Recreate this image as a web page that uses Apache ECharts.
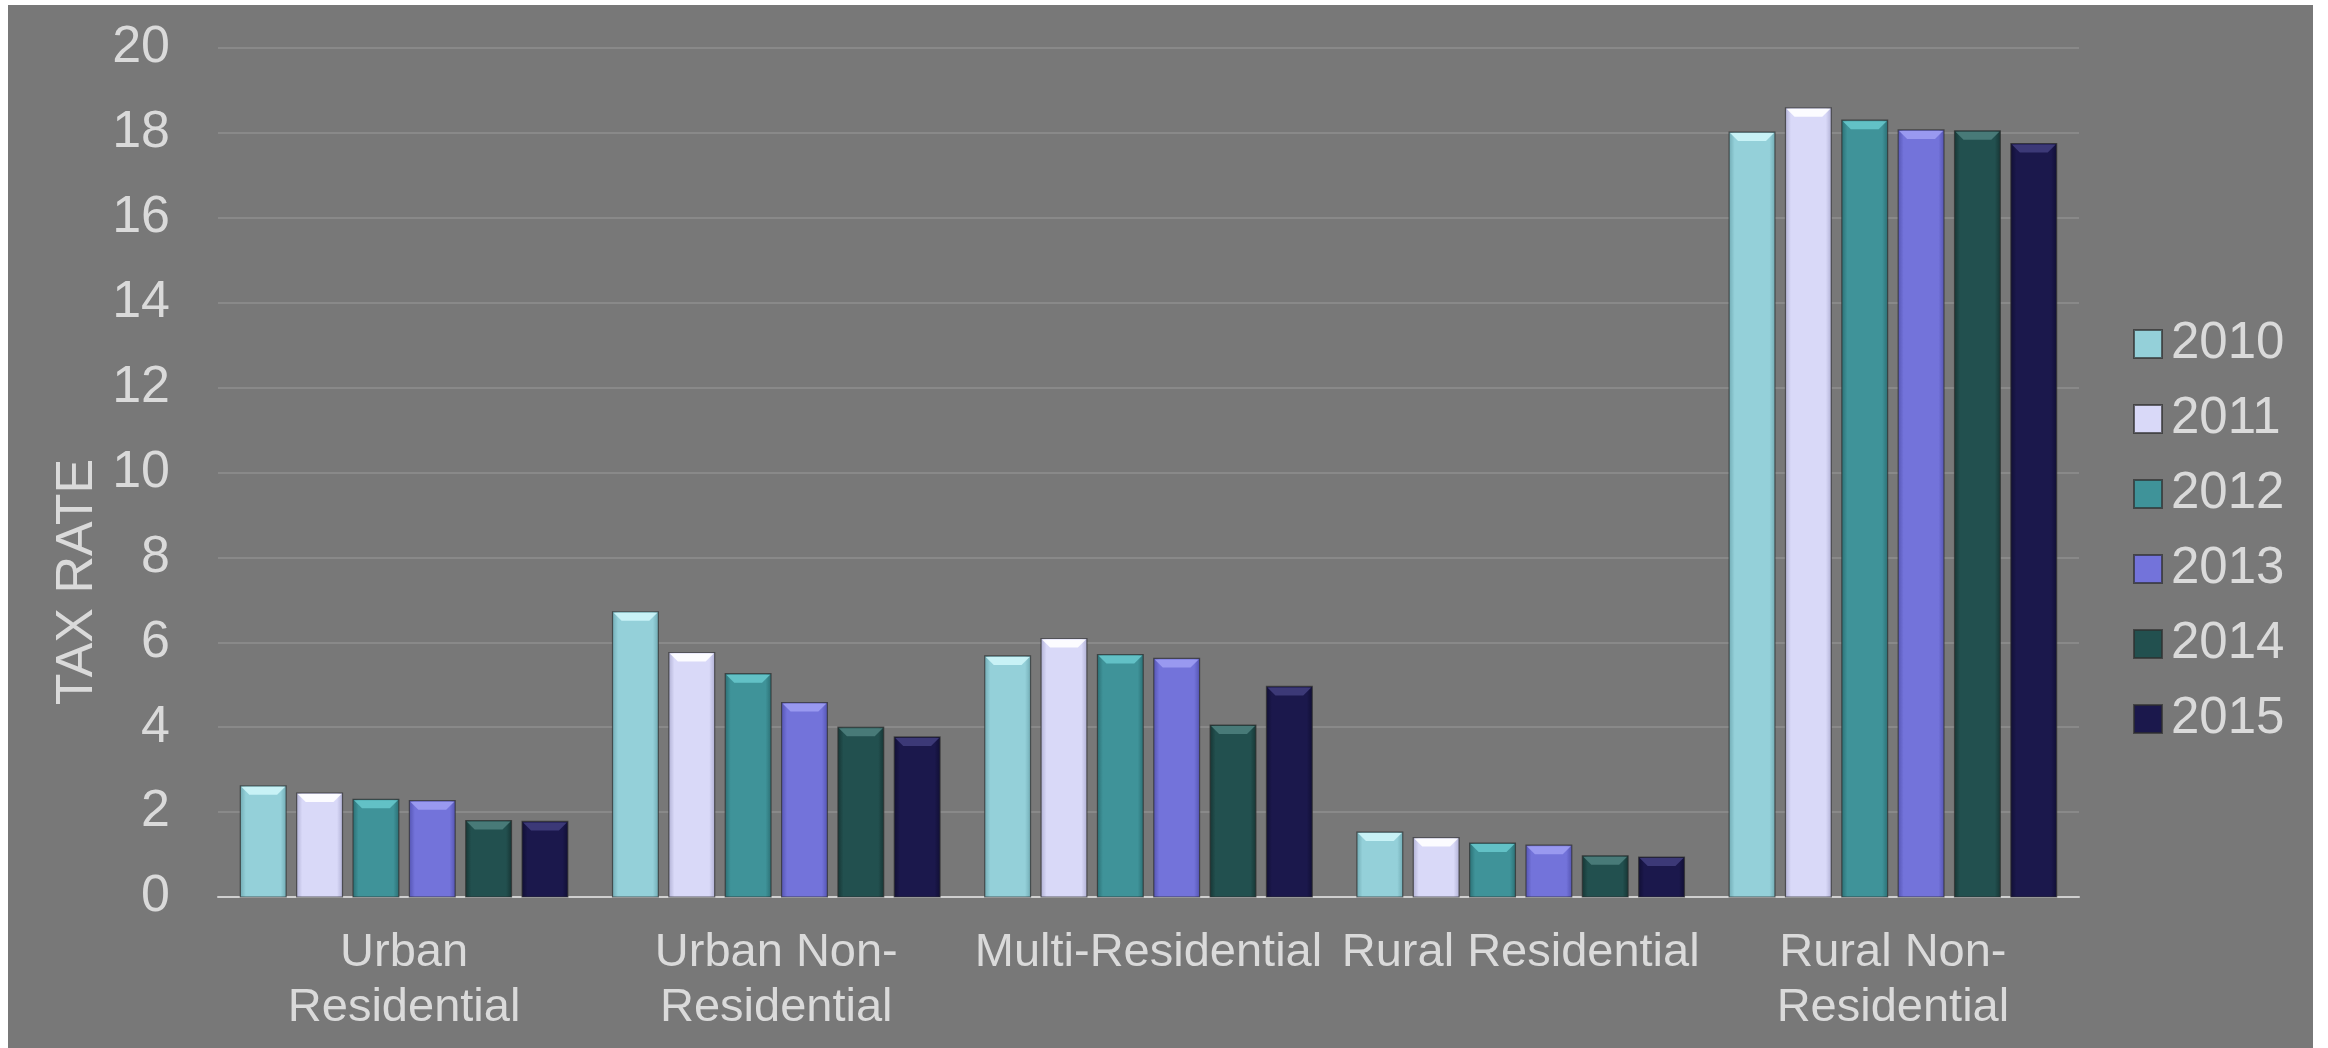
<!DOCTYPE html>
<html>
<head>
<meta charset="utf-8">
<title>Tax Rate by Property Class, 2010-2015</title>
<script src="https://cdn.jsdelivr.net/npm/echarts@6/dist/echarts.min.js"></script>
<style>
  html, body { margin: 0; padding: 0; background: #ffffff; width: 2328px; height: 1048px; overflow: hidden; }
  #chart { position: absolute; left: 8px; top: 5px; width: 2305px; height: 1043px; }
</style>
</head>
<body>
<div id="chart"></div>
<script>
// Property classes along the x axis
const categories = ['Urban\nResidential', 'Urban Non-\nResidential', 'Multi-Residential', 'Rural Residential', 'Rural Non-\nResidential'];
// One series per year
const years = ['2010', '2011', '2012', '2013', '2014', '2015'];
// Tax rate per class, per year
const rate2010 = [2.62, 6.72, 5.68, 1.53, 18.02];
const rate2011 = [2.45, 5.76, 6.09, 1.40, 18.59];
const rate2012 = [2.30, 5.26, 5.71, 1.27, 18.30];
const rate2013 = [2.27, 4.58, 5.62, 1.22, 18.07];
const rate2014 = [1.80, 4.00, 4.05, 0.97, 18.05];
const rate2015 = [1.78, 3.77, 4.96, 0.94, 17.75];
const yTicks = [0, 2, 4, 6, 8, 10, 12, 14, 16, 18, 20];

const rates = [rate2010, rate2011, rate2012, rate2013, rate2014, rate2015];
// body / edge shade / top bevel highlight per year
const palette = [
  ['#94d0d9', '#6fa9b2', '#cdf5f8'],
  ['#d9d9f8', '#aeaed2', '#ffffff'],
  ['#3f9399', '#2a6d72', '#66c6cb'],
  ['#7373da', '#5353b0', '#9d9df2'],
  ['#22504f', '#163433', '#4c7e7c'],
  ['#1b184c', '#100e33', '#403d7c']
];

const CATEGORY_GAP = 0.12;   // share of each band left empty
const BAR_GAP = 0.23;        // gap between bars, as share of bar width
const BEVEL = 9;

const FONT = "'Liberation Sans', Arial, sans-serif";
const TEXT = '#dadada';

function sideShade(c) {
  return new echarts.graphic.LinearGradient(0, 0, 1, 0, [
    { offset: 0, color: c[1] },
    { offset: 0.13, color: c[0] },
    { offset: 0.87, color: c[0] },
    { offset: 1, color: c[1] }
  ]);
}

// Grouped bevelled bar, positioned through the category/value scales
function makeRenderer(seriesIdx) {
  const c = palette[seriesIdx];
  const n = years.length;
  return function (params, api) {
    const cat = api.value(0);
    const val = api.value(1);
    const base = api.coord([cat, 0]);
    const top = api.coord([cat, val]);
    const band = api.size([1, 0])[0];
    const usable = band * (1 - CATEGORY_GAP);
    const bw = usable / (n + (n - 1) * BAR_GAP);
    const x0 = base[0] - usable / 2 + seriesIdx * bw * (1 + BAR_GAP);
    const y0 = top[1];
    const h = base[1] - y0;
    const b = Math.min(BEVEL, h / 2);
    return {
      type: 'group',
      children: [
        {
          type: 'rect',
          shape: { x: x0, y: y0, width: bw, height: h },
          style: { fill: sideShade(c), stroke: 'rgba(45,45,45,0.7)', lineWidth: 1.2 }
        },
        {
          type: 'polygon',
          shape: { points: [[x0 + 1, y0 + 1], [x0 + bw - 1, y0 + 1], [x0 + bw - b, y0 + b], [x0 + b, y0 + b]] },
          style: { fill: c[2], opacity: 0.9 }
        }
      ]
    };
  };
}

const chart = echarts.init(document.getElementById('chart'));

const series = years.map((y, i) => ({
  name: y,
  type: 'custom',
  renderItem: makeRenderer(i),
  encode: { x: 0, y: 1 },
  data: rates[i].map((v, j) => [j, v]),
  itemStyle: { color: palette[i][0], borderColor: 'rgba(45,45,45,0.7)', borderWidth: 1 },
  z: 3
}));

chart.setOption({
  backgroundColor: '#787878',
  animation: false,
  grid: { left: 210, right: 234, top: 43, bottom: 151 },
  legend: {
    orient: 'vertical',
    left: 2120,
    top: 308,
    itemWidth: 28,
    itemHeight: 28,
    itemGap: 23,
    icon: 'rect',
    textStyle: { color: TEXT, fontSize: 51, fontFamily: FONT, lineHeight: 52, padding: [0, 0, 0, 4] },
    data: years
  },
  xAxis: {
    type: 'category',
    data: categories,
    axisTick: { show: false },
    axisLine: { lineStyle: { color: '#cfcfcf', width: 2 } },
    axisLabel: {
      color: TEXT, fontSize: 47, fontFamily: FONT, lineHeight: 55,
      margin: 29, interval: 0
    }
  },
  yAxis: {
    type: 'value',
    min: yTicks[0],
    max: yTicks[yTicks.length - 1],
    interval: yTicks[1] - yTicks[0],
    axisLine: { show: false },
    axisTick: { show: false },
    splitLine: { lineStyle: { color: '#898989', width: 2 } },
    axisLabel: { color: TEXT, fontSize: 52, fontFamily: FONT, margin: 48 }
  },
  graphic: [{
    type: 'text',
    x: 70,
    y: 577,
    rotation: Math.PI / 2,
    style: {
      text: 'TAX RATE',
      fill: TEXT,
      font: '52px ' + FONT,
      align: 'center',
      verticalAlign: 'middle'
    }
  }],
  series: series
});
</script>
</body>
</html>
